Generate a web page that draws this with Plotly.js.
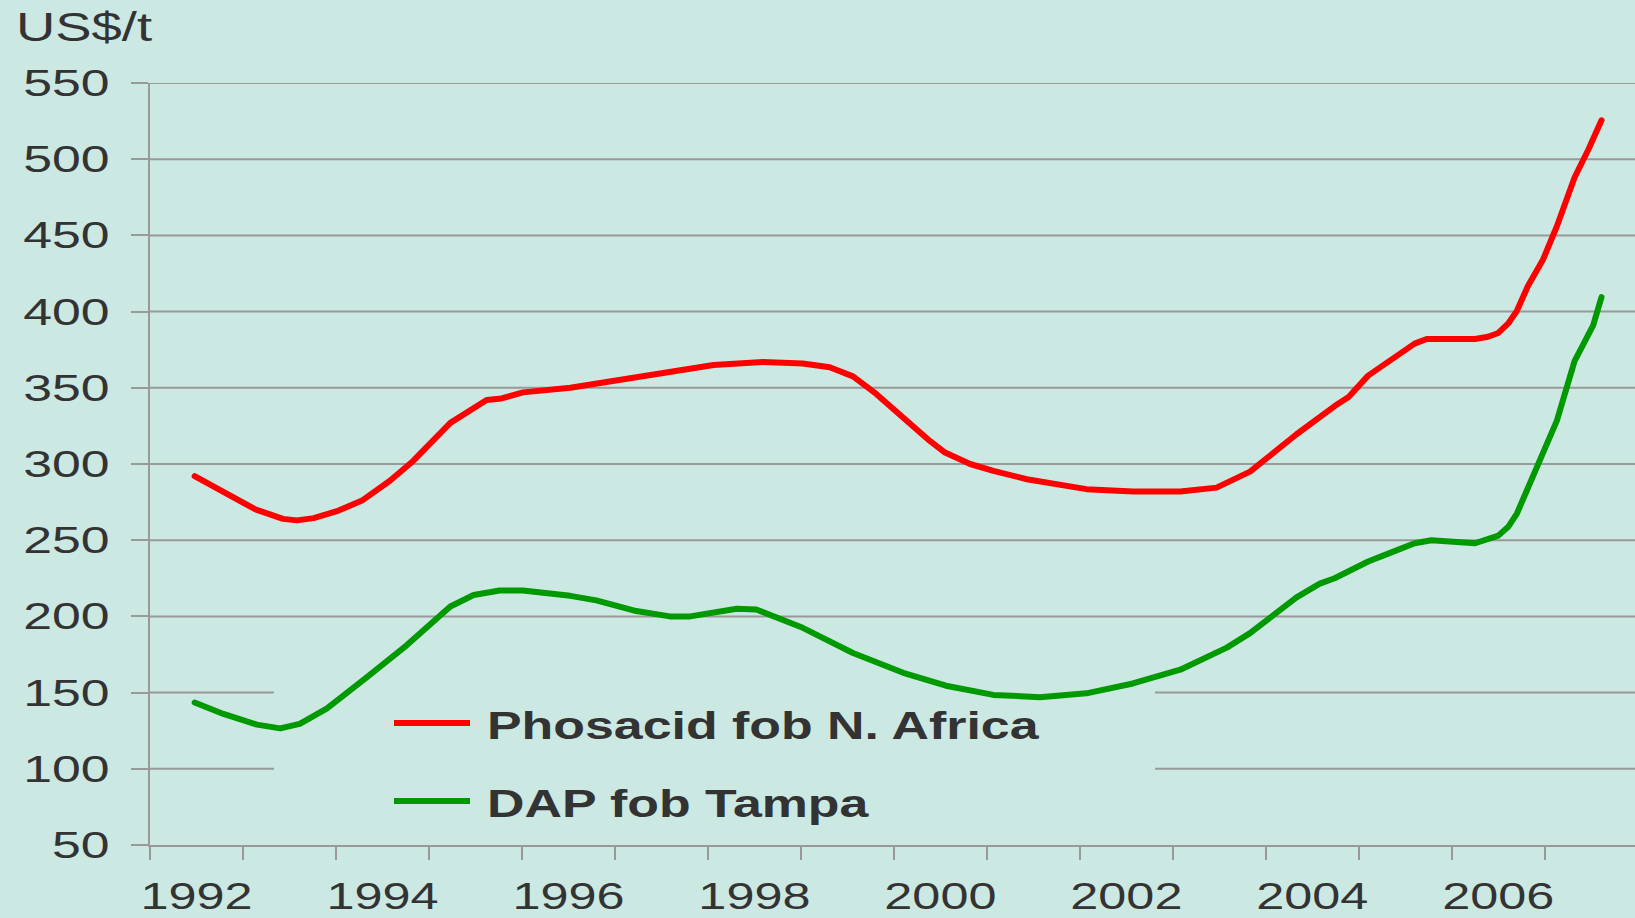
<!DOCTYPE html>
<html>
<head>
<meta charset="utf-8">
<script src="https://cdn.plot.ly/plotly-3.0.1.min.js"></script>
<style>html,body{margin:0;padding:0;background:#cce8e2;}#chart{width:1635px;height:918px;}</style>
</head>
<body>
<div id="chart"></div>
<script>
// Phosacid fob N. Africa (US$/t)
const phosYears = [1992.48,1992.97,1993.14,1993.29,1993.43,1993.58,1993.76,1994.01,1994.28,1994.58,1994.83,1995.23,1995.41,1995.62,1995.78,1996.01,1996.52,1997.05,1997.59,1998.06,1998.59,1999.02,1999.31,1999.56,1999.81,2000.10,2000.39,2000.55,2000.82,2001.07,2001.43,2002.07,2002.57,2003.08,2003.47,2003.83,2004.33,2004.74,2004.89,2005.10,2005.32,2005.49,2005.60,2005.73,2006.25,2006.39,2006.50,2006.61,2006.70,2006.82,2006.98,2007.13,2007.32,2007.47,2007.61];
const phosValues = [292,276,270,267,264,263,264.5,269,276,289,302,327,334,342,343,347,350,355,360,365,367,366,363.5,357.5,346,330,315,307.5,300,295.5,290,283.5,282,282,284.5,295,319.5,338,344,358,367.5,375,379,382,382,383.5,386,392.5,400.5,417,434,456,488,506.5,525.5];

// DAP fob Tampa (US$/t)
const dapYears = [1992.48,1992.79,1993.15,1993.40,1993.61,1993.90,1994.33,1994.76,1995.23,1995.48,1995.76,1996.01,1996.52,1996.80,1997.23,1997.59,1997.81,1998.31,1998.52,1999.02,1999.56,2000.10,2000.56,2001.07,2001.57,2002.07,2002.57,2003.08,2003.58,2003.83,2004.33,2004.58,2004.74,2005.10,2005.35,2005.60,2005.78,2006.00,2006.25,2006.50,2006.61,2006.70,2006.82,2006.98,2007.13,2007.32,2007.52,2007.61];
const dapValues = [143.5,136,129,126.5,129.5,139.5,160,181,206.5,214,217,217,213.5,210.5,203.5,200,200,205,204.5,192.5,176,163,154.5,148.5,147,149.5,156,165,179.5,189,212.5,221.5,225,236,242,248,250,249,248,253,259,267.5,284.5,305,328.5,367.5,391,409.5];

const seriesNames = ["Phosacid fob N. Africa", "DAP fob Tampa"];
const xTickVals = [1992.5,1994.5,1996.5,1998.5,2000.5,2002.5,2004.5,2006.5];
const xTickText = ["1992","1994","1996","1998","2000","2002","2004","2006"];
const yTickVals = [50,100,150,200,250,300,350,400,450,500,550];

const bg = "#cce8e2";
const gridCol = "#999999";
const txtCol = "#333333";
const fam = "Liberation Sans, Arial, Helvetica, sans-serif";

const traces = [
  {x: phosYears, y: phosValues, name: seriesNames[0], type: "scatter", mode: "lines",
   line: {color: "#ff0000", width: 6}},
  {x: dapYears, y: dapValues, name: seriesNames[1], type: "scatter", mode: "lines",
   line: {color: "#009900", width: 6}}
];

// plot area in pixels: x 150..1635, y 83..845
const px = v => (v - 150) / 1485;
const py = v => (845 - v) / 762;

// horizontal grid lines (gap behind the legend block on 100 and 150)
const gapFrom = px(274), gapTo = px(1155);
const gridShapes = [];
yTickVals.forEach(v => {
  if (v === 50) return;
  const segs = (v === 100 || v === 150) ? [[0, gapFrom], [gapTo, 1]] : [[0, 1]];
  segs.forEach(s => gridShapes.push({
    type: "line", xref: "paper", yref: "y", x0: s[0], x1: s[1], y0: v, y1: v,
    line: {color: gridCol, width: 2}, layer: "below"
  }));
});

const layout = {
  width: 1635, height: 918,
  paper_bgcolor: bg, plot_bgcolor: bg,
  margin: {l: 150, r: 0, t: 83, b: 73, pad: 0},
  showlegend: false,
  font: {family: fam, color: txtCol},
  title: {text: "US$/t", xref: "container", yref: "container", x: 16/1635, xanchor: "left",
          y: 1 - 27/918, yanchor: "middle", font: {size: 40, family: fam, color: txtCol}},
  xaxis: {
    range: [1992, 2007.97], showgrid: false, zeroline: false,
    showline: true, linecolor: gridCol, linewidth: 2,
    tickmode: "array", tickvals: xTickVals, ticktext: xTickText,
    ticks: "", ticklabelstandoff: 19,
    tickfont: {size: 36, family: fam, color: txtCol},
    minor: {tick0: 1992, dtick: 1, ticks: "outside", ticklen: 13, tickwidth: 2, tickcolor: gridCol, showgrid: false},
    fixedrange: true
  },
  yaxis: {
    range: [50, 550], tickmode: "array", tickvals: yTickVals,
    showgrid: false, zeroline: false,
    showline: true, linecolor: gridCol, linewidth: 2,
    ticks: "outside", ticklen: 17, tickwidth: 2, tickcolor: gridCol,
    ticklabelstandoff: 14,
    tickfont: {size: 37, family: fam, color: txtCol},
    fixedrange: true
  },
  shapes: gridShapes.concat([
    {type: "line", xref: "paper", yref: "paper", x0: px(394), x1: px(470),
     y0: py(723), y1: py(723), line: {color: "#ff0000", width: 6}},
    {type: "line", xref: "paper", yref: "paper", x0: px(394), x1: px(470),
     y0: py(801), y1: py(801), line: {color: "#009900", width: 6}}
  ]),
  annotations: [
    {text: "<b>" + seriesNames[0] + "</b>", xref: "paper", yref: "paper", align: "left",
     x: px(485), y: py(725), xanchor: "left", yanchor: "middle", showarrow: false,
     font: {size: 39, family: fam, color: txtCol}},
    {text: "<b>" + seriesNames[1] + "</b>", xref: "paper", yref: "paper", align: "left",
     x: px(485), y: py(803), xanchor: "left", yanchor: "middle", showarrow: false,
     font: {size: 39, family: fam, color: txtCol}}
  ]
};

function widen(selector, factor) {
  document.querySelectorAll(selector).forEach(el => {
    const w = el.getComputedTextLength();
    if (w > 0) {
      el.setAttribute("textLength", (w * factor).toFixed(1));
      el.setAttribute("lengthAdjust", "spacingAndGlyphs");
    }
  });
}

Plotly.newPlot("chart", traces, layout, {displayModeBar: false, staticPlot: true}).then(() => {
  // the reference lettering is horizontally wide; stretch the real text to match
  widen("#chart .xtick text", 1.40);
  widen("#chart .ytick text", 1.40);
  widen("#chart .gtitle", 1.36);
  widen("#chart .annotation-text", 1.33);
  // round line joins like the reference strokes
  document.querySelectorAll("#chart .scatterlayer path.js-line").forEach(p => {
    p.style.strokeLinejoin = "round";
    p.style.strokeLinecap = "round";
  });
});
</script>
</body>
</html>
